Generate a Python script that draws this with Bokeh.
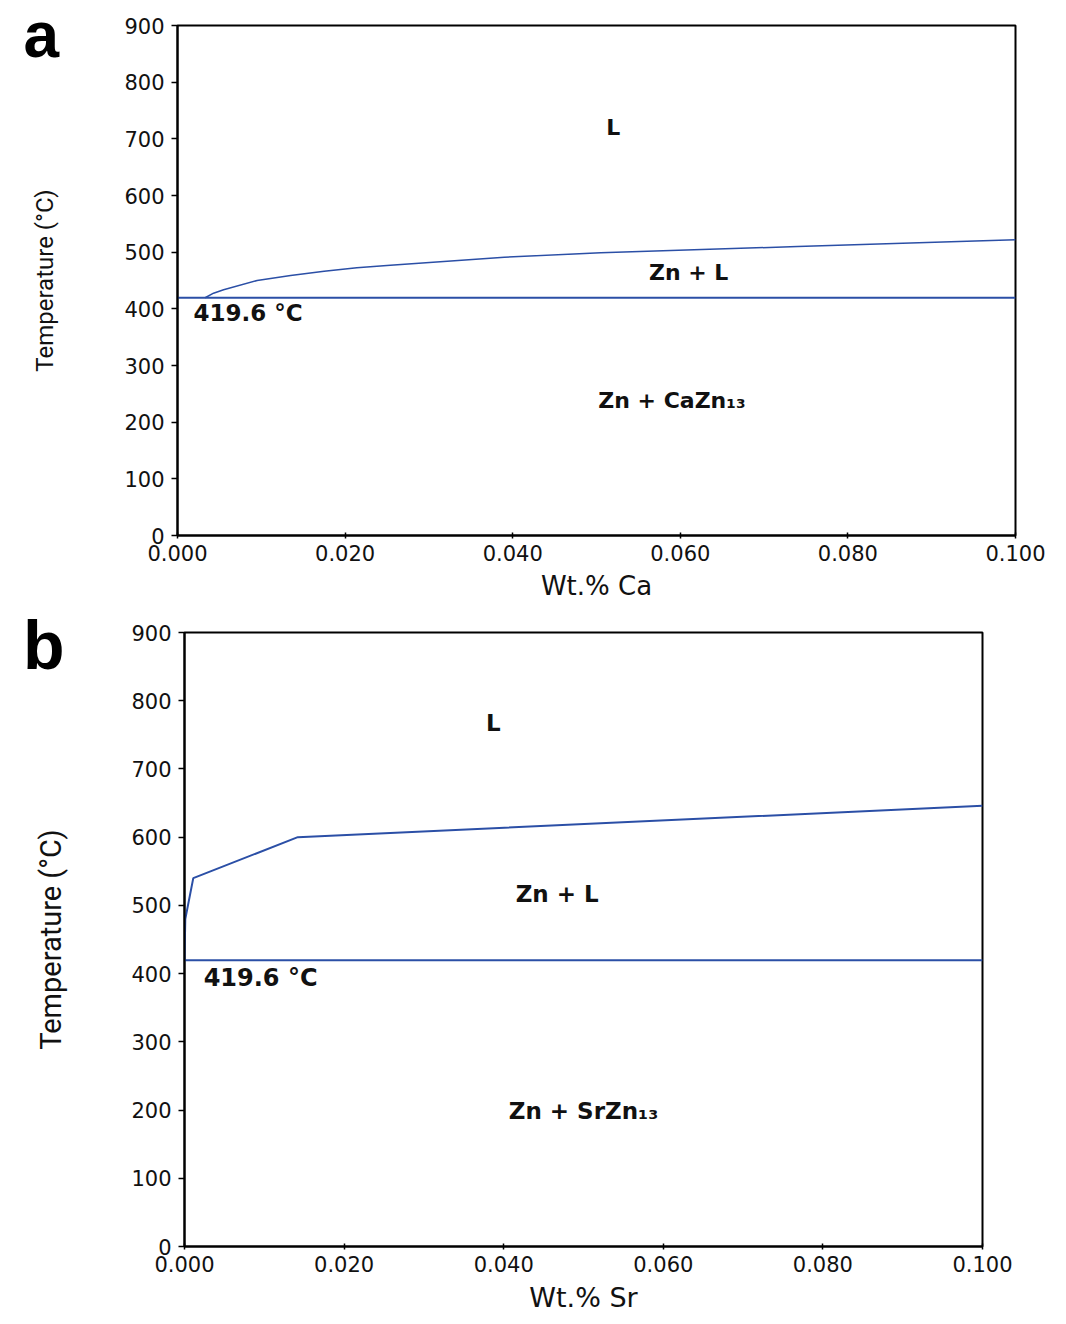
from bokeh.plotting import figure
from bokeh.models import Range1d, FixedTicker, NumeralTickFormatter, LinearAxis, ColumnDataSource
from bokeh.layouts import column
from bokeh.core.properties import value
from bokeh.embed import file_html
from bokeh.resources import INLINE

# ---- data ----
x_ticks = [0.0, 0.02, 0.04, 0.06, 0.08, 0.10]
y_ticks = [0, 100, 200, 300, 400, 500, 600, 700, 800, 900]
eutectic_T = 419.6

ca_x = [0.0033, 0.0043, 0.0055, 0.0095, 0.0135, 0.0175, 0.0214, 0.0254, 0.039, 0.0505, 0.074, 0.100]
ca_T = [419.6, 427.6, 433.6, 450, 458.8, 466.4, 472.4, 477, 491, 499, 510, 522]

sr_x = [0.0, 0.0001, 0.0011, 0.0142, 0.100]
sr_T = [419.6, 480, 540, 600, 646]

ca_labels = ["L", "Zn + L", "Zn + CaZn₁₃"]
ca_label_x = [0.052, 0.061, 0.059]
ca_label_T = [720, 464, 238]

sr_labels = ["L", "Zn + L", "Zn + SrZn₁₃"]
sr_label_x = [0.0387, 0.0467, 0.050]
sr_label_T = [767, 517, 199]

BLUE = "#2b4fa6"


def make_panel(letter, letter_mode, letter_T, letter_standoff, xs, Ts, labels, lx, lT,
               xlabel, w, h, bl, br, bt, bb, tick_fs, xlab_fs, ylab_fs, ylab_standoff,
               reg_fs, lw, eut_x):
    p = figure(width=w, height=h, output_backend="svg", toolbar_location=None,
               x_range=Range1d(0, 0.1), y_range=Range1d(0, 900),
               min_border_left=bl, min_border_right=br, min_border_top=bt,
               min_border_bottom=bb)
    p.background_fill_color = "white"
    p.border_fill_color = "white"
    p.outline_line_color = "black"
    p.outline_line_width = 2
    p.outline_line_alpha = 1
    p.xgrid.visible = False
    p.ygrid.visible = False

    p.xaxis.ticker = FixedTicker(ticks=x_ticks)
    p.yaxis.ticker = FixedTicker(ticks=y_ticks)
    p.xaxis.formatter = NumeralTickFormatter(format="0.000")
    for ax in (p.xaxis[0], p.yaxis[0]):
        ax.axis_line_width = 2
        ax.axis_line_color = "black"
        ax.major_tick_line_width = 1.5
        ax.minor_tick_line_color = None
        ax.major_label_text_font = "DejaVu Sans"
        ax.major_label_text_font_size = f"{tick_fs}px"
        ax.major_label_text_color = "#111111"
        ax.axis_label_text_font_style = "normal"
        ax.axis_label_text_color = "#111111"
    p.xaxis.major_tick_in = 3
    p.xaxis.major_tick_out = 3
    p.xaxis.major_label_standoff = 6
    p.yaxis.major_tick_in = 0
    p.yaxis.major_tick_out = 6
    p.yaxis.major_label_standoff = 7

    p.xaxis.axis_label = xlabel
    p.xaxis.axis_label_text_font = "DejaVu Sans"
    p.xaxis.axis_label_text_font_size = f"{xlab_fs}px"
    p.xaxis.axis_label_standoff = 7

    p.yaxis.axis_label = "Temperature (°C)"
    p.yaxis.axis_label_text_font = "Roboto"
    p.yaxis.axis_label_text_font_size = f"{ylab_fs}px"
    p.yaxis.axis_label_standoff = ylab_standoff

    if letter_mode == "title":
        p.title.text = letter
        p.title.align = "left"
        p.title.vertical_align = "bottom"
        p.title.text_font = "Liberation Sans"
        p.title.text_font_style = "bold"
        p.title.text_font_size = "64px"
        p.title.text_color = "black"
        p.title.standoff = letter_standoff
        p.title.offset = -154
    else:
        # panel letter, drawn as the single label of an outer, line-less axis
        letter_axis = LinearAxis(ticker=FixedTicker(ticks=[letter_T]),
                                 major_label_overrides={letter_T: letter},
                                 axis_line_color=None, major_tick_line_color=None,
                                 minor_tick_line_color=None, major_tick_in=0, major_tick_out=0,
                                 major_label_text_font="Liberation Sans",
                                 major_label_text_font_style="bold",
                                 major_label_text_font_size="68px",
                                 major_label_text_color="black",
                                 major_label_standoff=letter_standoff)
        p.add_layout(letter_axis, "left")

    # eutectic line and liquidus
    p.line(x=[0.0, 0.1], y=[eutectic_T, eutectic_T], line_color=BLUE, line_width=2)
    p.line(x=xs, y=Ts, line_color=BLUE, line_width=lw)

    src = ColumnDataSource(dict(x=lx, y=lT, t=labels))
    p.text(x="x", y="y", text="t", source=src, text_font=value("DejaVu Sans"),
           text_font_style="bold", text_font_size=f"{reg_fs}px",
           text_align="center", text_baseline="middle", text_color="#111111")

    p.text(x=[eut_x], y=[393], text=[f"{eutectic_T} °C"],
           text_font=value("DejaVu Sans"), text_font_style="bold",
           text_font_size=f"{reg_fs + 1}px", text_align="left", text_baseline="middle",
           text_color="#111111")
    return p


# panel a frame: left 177, right 1015, top 25, bottom 535 (figure height 605)
pa = make_panel("a", "title", None, -90, ca_x, ca_T, ca_labels, ca_label_x, ca_label_T,
                "Wt.% Ca", 1066, 605, 177, 51, 25, 70, 21, 26, 24, 62, 22, 1.5, 0.0019)
# panel b frame: left 184, right 982, top 632, bottom 1246 (figure starts at 605)
pb = make_panel("b", "axis", 881, -33, sr_x, sr_T, sr_labels, sr_label_x, sr_label_T,
                "Wt.% Sr", 1066, 719, 184, 84, 27, 78, 21, 27, 29, 60, 23, 2, 0.0024)

layout = column(column(pa), column(pb), spacing=0)
open("out.html", "w").write(file_html(layout, INLINE))
